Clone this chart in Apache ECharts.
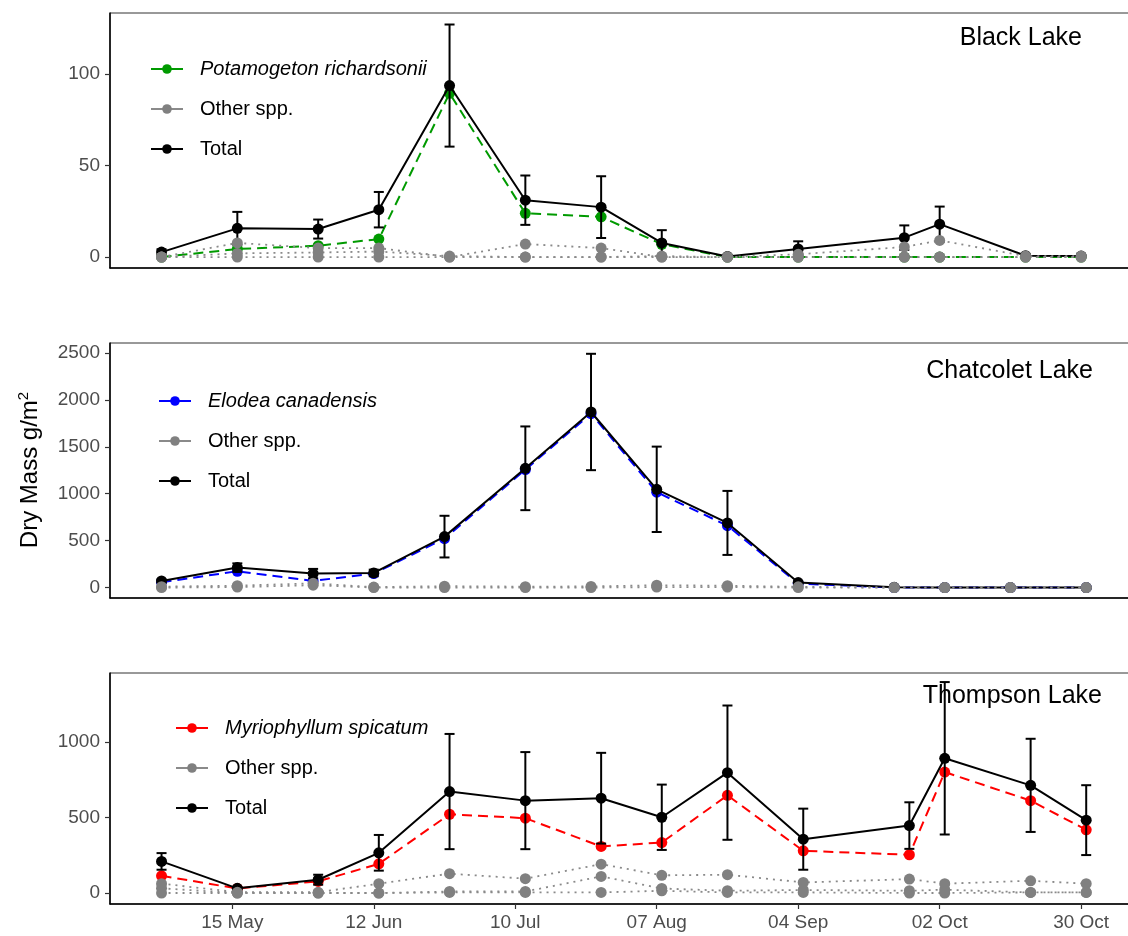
<!DOCTYPE html>
<html>
<head>
<meta charset="utf-8">
<script src="https://cdn.jsdelivr.net/npm/echarts@6/dist/echarts.min.js"></script>
<style>
  html, body { margin: 0; padding: 0; background: #fff; overflow: hidden; }
  /* plot panels run past the right edge of the picture, as in the original */
  #chart { width: 1162px; height: 936px; }
</style>
</head>
<body>
<div id="chart"></div>
<script>
// ---- data ----
const xTickDates = ["2019-05-15", "2019-06-12", "2019-07-10", "2019-08-07", "2019-09-04", "2019-10-02", "2019-10-30"];

// Black Lake
const blackDates = ["2019-05-01", "2019-05-16", "2019-06-01", "2019-06-13", "2019-06-27", "2019-07-12", "2019-07-27",
  "2019-08-08", "2019-08-21", "2019-09-04", "2019-09-25", "2019-10-02", "2019-10-19", "2019-10-30"];
const blackSpecies = [0, 4.4, 6.2, 9.8, 89.6, 23.9, 22.0, 7.0, 0, 0, 0, 0, 0, 0];
const blackOtherA = [0, 7.7, 4.9, 4.9, 0, 7.1, 4.9, 0, 0, 1.5, 5.5, 9.1, 0.5, 0.5];
const blackOtherB = [0, 0, 0, 0, 0, 0, 0, 0, 0, 0, 0, 0, 0, 0];
const blackOtherC = [0, 2.0, 2.5, 3.0, 0.5, 0, 0, 0.5, 0, 0, 0, 0, 0, 0];
const blackTotal = [2.7, 15.7, 15.3, 25.9, 93.8, 31.1, 27.3, 7.7, 0.3, 4.4, 10.6, 18.0, 0.7, 0.5];
const blackErr = [1.5, 9, 5.2, 9.7, 33.4, 13.5, 16.9, 7, 0.3, 4.2, 6.7, 9.6, 0.5, 0.5];
const blackTicks = [0, 50, 100];

// Chatcolet Lake
const chatDates = ["2019-05-01", "2019-05-16", "2019-05-31", "2019-06-12", "2019-06-26", "2019-07-12", "2019-07-25",
  "2019-08-07", "2019-08-21", "2019-09-04", "2019-09-23", "2019-10-03", "2019-10-16", "2019-10-31"];
const chatSpecies = [57, 174, 71, 149, 522, 1257, 1853, 1016, 660, 43, 0, 0, 0, 0];
const chatOtherA = [10, 20, 45, 5, 15, 10, 12, 25, 20, 8, 0, 0, 0, 0];
const chatOtherB = [0, 5, 25, 0, 0, 0, 0, 5, 5, 0, 0, 0, 0, 0];
const chatTotal = [70, 213, 149, 156, 543, 1271, 1871, 1047, 689, 53, 3, 0, 0, 0];
const chatErr = [15, 45, 50, 35, 222, 446, 620, 455, 341, 8, 0, 0, 0, 0];
const chatTicks = [0, 500, 1000, 1500, 2000, 2500];

// Thompson Lake
const thompDates = ["2019-05-01", "2019-05-16", "2019-06-01", "2019-06-13", "2019-06-27", "2019-07-12", "2019-07-27",
  "2019-08-08", "2019-08-21", "2019-09-05", "2019-09-26", "2019-10-03", "2019-10-20", "2019-10-31"];
const thompSpecies = [114, 30, 77, 193, 521, 495, 308, 334, 646, 279, 253, 800, 611, 418];
const thompOtherA = [62, 5, 5, 62, 128, 95, 191, 117, 121, 70, 92, 62, 81, 62];
const thompOtherB = [0, 0, 0, 0, 4, 4, 4, 15, 4, 4, 0, 0, 4, 4];
const thompOtherC = [31, 0, 0, 0, 10, 10, 110, 30, 15, 20, 15, 22, 4, 4];
const thompTotal = [209, 31, 88, 266, 671, 611, 627, 501, 796, 356, 446, 891, 712, 482];
const thompErr = [55, 8, 33, 118, 381, 321, 300, 216, 444, 202, 154, 504, 308, 231];
const thompTicks = [0, 500, 1000];

// ---- helpers ----
const DAY = 86400000;
const FONT = "Liberation Sans, Arial, sans-serif";
const MONTHS = ["Jan", "Feb", "Mar", "Apr", "May", "Jun", "Jul", "Aug", "Sep", "Oct", "Nov", "Dec"];

function toTime(s) {
  const p = s.split("-").map(Number);
  return Date.UTC(p[0], p[1] - 1, p[2]);
}
function fmtDate(v) {
  const d = new Date(v);
  return String(d.getUTCDate()).padStart(2, "0") + " " + MONTHS[d.getUTCMonth()];
}
function zip(dates, vals) {
  return dates.map((d, i) => [toTime(d), vals[i]]);
}

const xTickTimes = xTickDates.map(toTime);
const xMin = toTime("2019-05-15") - 24.2 * DAY;
const xMax = xMin + 208.2 * DAY;

const panels = [
  { title: "Black Lake", species: "Potamogeton richardsonii", color: "#009a00",
    dates: blackDates, sp: blackSpecies, others: [blackOtherA, blackOtherB, blackOtherC],
    total: blackTotal, err: blackErr, ticks: blackTicks, yMin: -6, yMax: 133.5,
    top: 13, height: 255, legendLeft: 150, legendTop: 59, titleRight: 80, titleTop: 26 },
  { title: "Chatcolet Lake", species: "Elodea canadensis", color: "#0000ff",
    dates: chatDates, sp: chatSpecies, others: [chatOtherA, chatOtherB],
    total: chatTotal, err: chatErr, ticks: chatTicks, yMin: -111, yMax: 2606,
    top: 343, height: 255, legendLeft: 158, legendTop: 391, titleRight: 69, titleTop: 359 },
  { title: "Thompson Lake", species: "Myriophyllum spicatum", color: "#ff0000",
    dates: thompDates, sp: thompSpecies, others: [thompOtherA, thompOtherB, thompOtherC],
    total: thompTotal, err: thompErr, ticks: thompTicks, yMin: -72.6, yMax: 1455,
    top: 673, height: 231, legendLeft: 175, legendTop: 718, titleRight: 60, titleTop: 684 }
];

// error bar drawing
function renderErr(params, api) {
  const x = api.value(0);
  const top = api.coord([x, api.value(2)]);
  const bot = api.coord([x, api.value(1)]);
  const w = 5;
  const style = { stroke: "#000", lineWidth: 2 };
  return {
    type: "group",
    children: [
      { type: "line", shape: { x1: top[0], y1: top[1], x2: bot[0], y2: bot[1] }, style: style },
      { type: "line", shape: { x1: top[0] - w, y1: top[1], x2: top[0] + w, y2: top[1] }, style: style },
      { type: "line", shape: { x1: bot[0] - w, y1: bot[1], x2: bot[0] + w, y2: bot[1] }, style: style }
    ]
  };
}

const grids = [], xAxes = [], yAxes = [], series = [], legends = [], titles = [];

panels.forEach((p, i) => {
  grids.push({ left: 110, right: 0, top: p.top, height: p.height,
    show: true, borderColor: "#333", borderWidth: 1 });

  xAxes.push({
    type: "value", gridIndex: i, min: xMin, max: xMax,
    axisLine: { show: true, onZero: false, lineStyle: { color: "#000", width: 1.5 } },
    axisTick: { show: i === 2, customValues: xTickTimes, length: 5, lineStyle: { color: "#333", width: 1.2 } },
    axisLabel: { show: i === 2, customValues: xTickTimes, formatter: fmtDate,
      fontSize: 19, color: "#4d4d4d", fontFamily: FONT, margin: 9 },
    splitLine: { show: false }
  });

  yAxes.push({
    type: "value", gridIndex: i, min: p.yMin, max: p.yMax,
    axisLine: { show: true, lineStyle: { color: "#000", width: 1.5 } },
    axisTick: { show: true, customValues: p.ticks, length: 5, lineStyle: { color: "#333", width: 1.2 } },
    axisLabel: { customValues: p.ticks, formatter: (v) => String(v),
      fontSize: 19, color: "#4d4d4d", fontFamily: FONT, margin: 10 },
    splitLine: { show: false }
  });

  series.push({
    name: p.species, type: "line", xAxisIndex: i, yAxisIndex: i,
    data: zip(p.dates, p.sp), symbol: "circle", symbolSize: 11, z: 2,
    itemStyle: { color: p.color },
    lineStyle: { color: p.color, width: 2, type: [10, 6] }
  });

  series.push({
    name: "Total", type: "line", xAxisIndex: i, yAxisIndex: i,
    data: zip(p.dates, p.total), symbol: "circle", symbolSize: 11, z: 3,
    itemStyle: { color: "#000" },
    lineStyle: { color: "#000", width: 2 }
  });

  series.push({
    type: "custom", xAxisIndex: i, yAxisIndex: i, z: 4,
    renderItem: renderErr,
    encode: { x: 0, y: [1, 2] },
    data: p.dates.map((d, k) => [toTime(d), p.total[k] - p.err[k], p.total[k] + p.err[k]])
  });

  // other species sit on top, as in the original
  p.others.forEach((o) => {
    series.push({
      name: "Other spp.", type: "line", xAxisIndex: i, yAxisIndex: i,
      data: zip(p.dates, o), symbol: "circle", symbolSize: 11, z: 5,
      itemStyle: { color: "#808080" },
      lineStyle: { color: "#8a8a8a", width: 1.8, type: [2, 5] }
    });
  });

  legends.push({
    orient: "vertical", left: p.legendLeft, top: p.legendTop, padding: 0,
    itemWidth: 32, itemHeight: 12, itemGap: 20, selectedMode: false,
    data: [{ name: p.species, textStyle: { fontStyle: "italic" } }, "Other spp.", "Total"],
    lineStyle: { type: "solid", width: 2 },
    textStyle: { fontSize: 20, color: "#000", fontFamily: FONT, padding: [0, 0, 0, 12] }
  });

  titles.push({
    text: p.title, right: p.titleRight, top: p.titleTop, padding: 0,
    textStyle: { fontSize: 25, fontWeight: "normal", color: "#000", fontFamily: FONT }
  });
});

const chart = echarts.init(document.getElementById("chart"));
chart.setOption({
  animation: false,
  backgroundColor: "#fff",
  title: titles,
  legend: legends,
  grid: grids,
  xAxis: xAxes,
  yAxis: yAxes,
  series: series,
  graphic: [{
    type: "text", x: 30, y: 470, rotation: Math.PI / 2,
    style: {
      text: "{a|Dry Mass g/m}{b|2}",
      textAlign: "center", textVerticalAlign: "middle",
      rich: {
        a: { fontSize: 24, fontFamily: FONT, fill: "#000", lineHeight: 28 },
        b: { fontSize: 15, fontFamily: FONT, fill: "#000", verticalAlign: "top", lineHeight: 16 }
      }
    }
  }]
});
</script>
</body>
</html>
